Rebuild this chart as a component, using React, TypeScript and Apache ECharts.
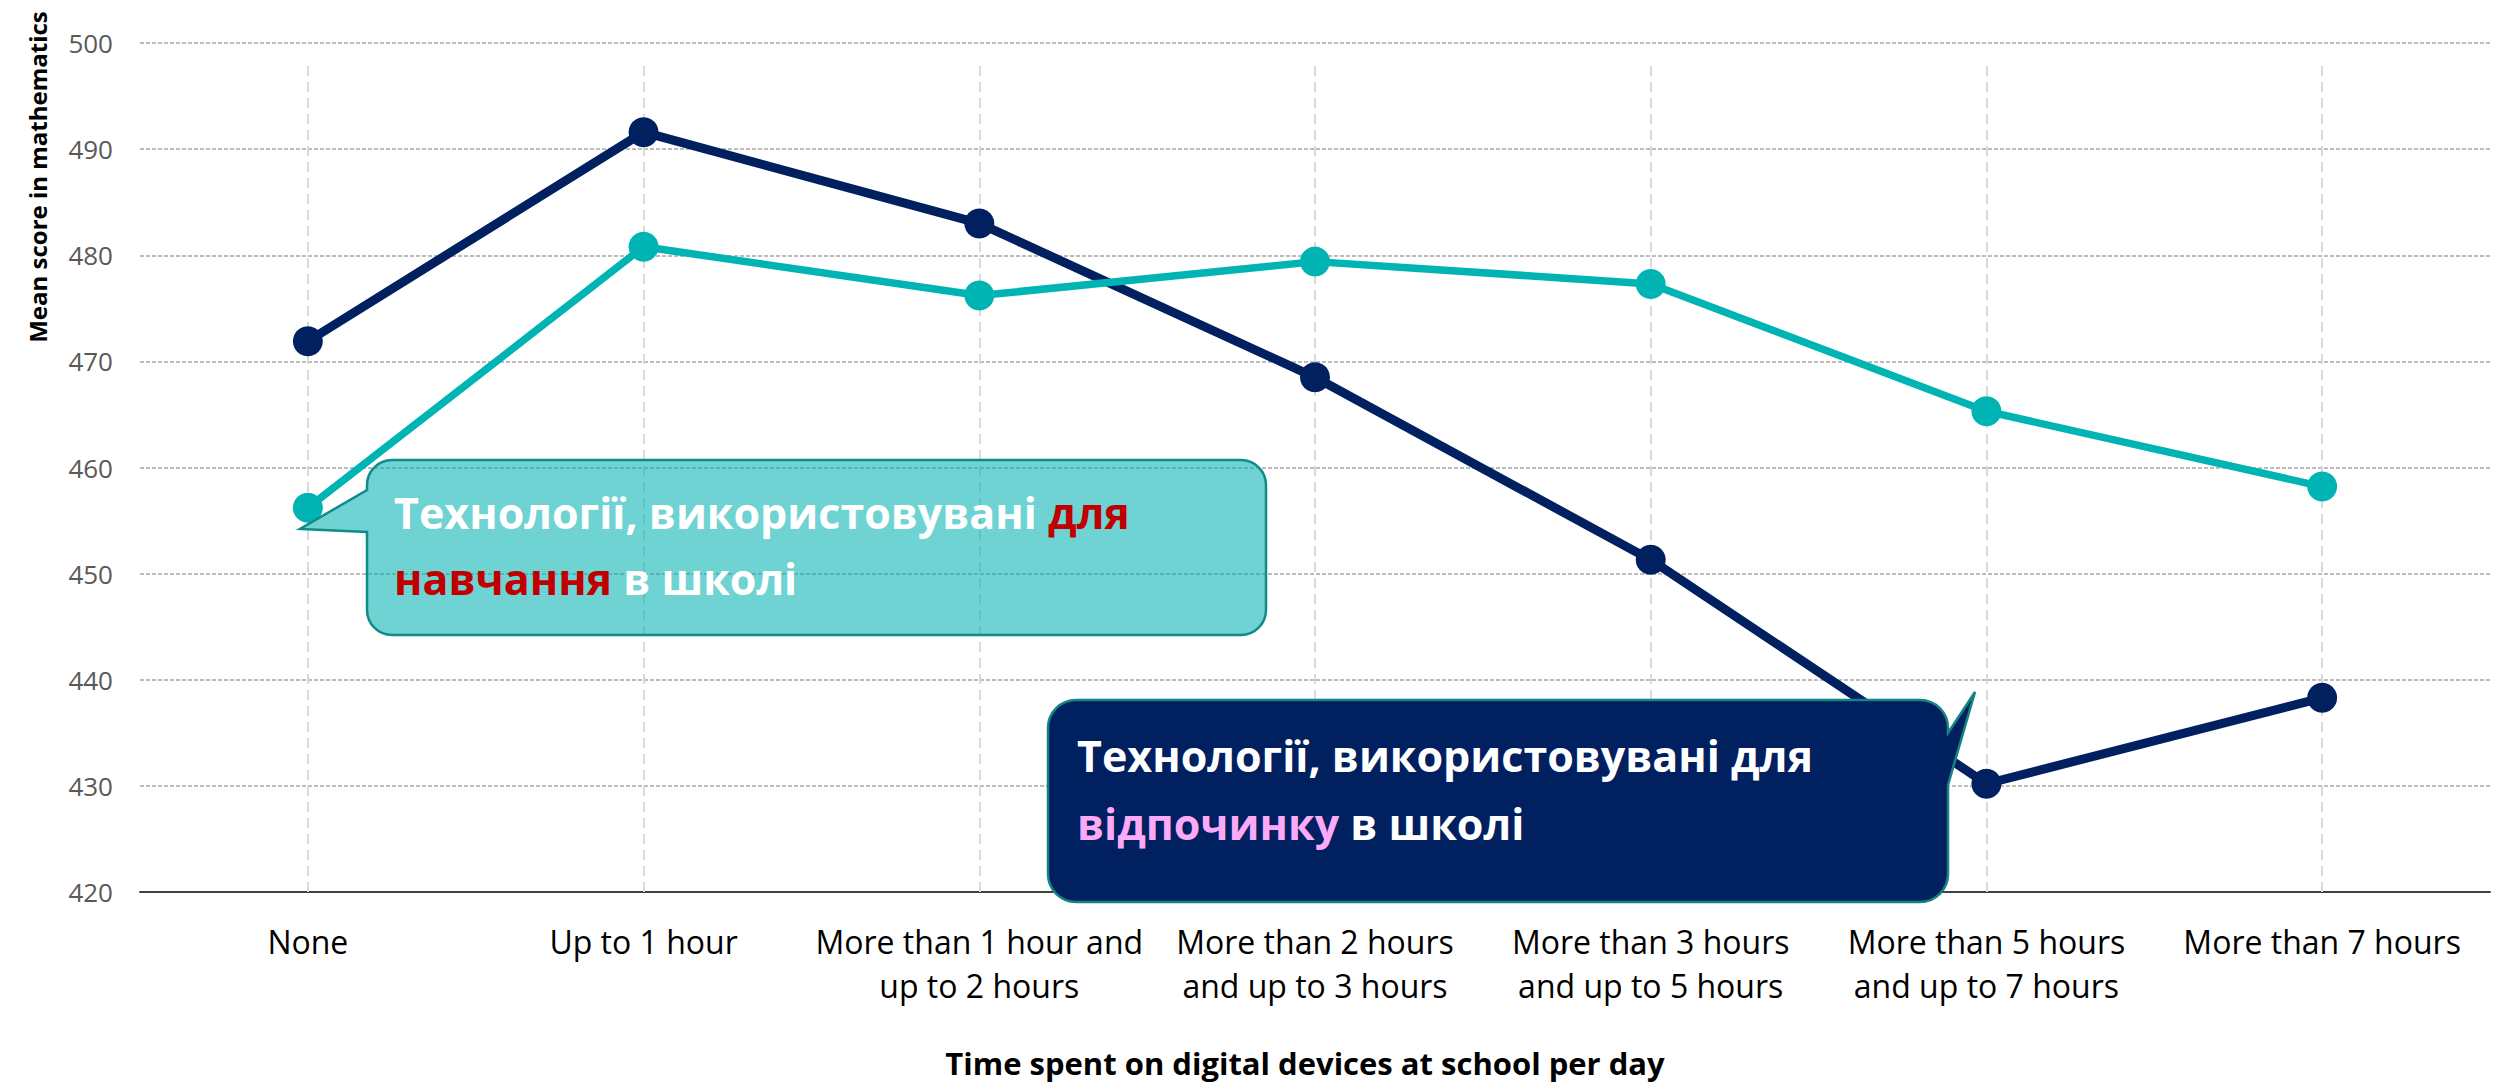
import React, { useEffect, useRef } from "react";
import * as echarts from "echarts";

const categories = [
  "None",
  "Up to 1 hour",
  "More than 1 hour and\nup to 2 hours",
  "More than 2 hours\nand up to 3 hours",
  "More than 3 hours\nand up to 5 hours",
  "More than 5 hours\nand up to 7 hours",
  "More than 7 hours",
];

// Technology used for leisure at school
const leisureScores = [471.9, 491.6, 483.0, 468.5, 451.3, 430.2, 438.3];
// Technology used for learning at school
const learningScores = [456.2, 480.8, 476.2, 479.4, 477.3, 465.3, 458.2];

const yMin = 420;
const yMax = 500;
const yInterval = 10;

const yAxisTitle = "Mean score in mathematics";
const xAxisTitle = "Time spent on digital devices at school per day";

const NAVY = "#002060";
const TEAL = "#00B4B4";
const FONT = "'Open Sans', 'Noto Sans', sans-serif";

const tealCalloutPath =
  "M 392 460 H 1241 A 25 25 0 0 1 1266 485 V 610 A 25 25 0 0 1 1241 635 H 392 A 25 25 0 0 1 367 610 V 532 L 300 529 L 367 490 V 485 A 25 25 0 0 1 392 460 Z";
const navyCalloutPath =
  "M 1076 700 H 1920 A 28 28 0 0 1 1948 728 V 733 L 1975 692 L 1948 785 V 874 A 28 28 0 0 1 1920 902 H 1076 A 28 28 0 0 1 1048 874 V 728 A 28 28 0 0 1 1076 700 Z";

let registered = false;
function registerShapes() {
  if (registered) return;
  echarts.graphic.registerShape("tealCallout", echarts.graphic.extendPath(tealCalloutPath, {}) as any);
  echarts.graphic.registerShape("navyCallout", echarts.graphic.extendPath(navyCalloutPath, {}) as any);
  registered = true;
}

export default function App() {
  const ref = useRef<HTMLDivElement>(null);

  useEffect(() => {
    document.body.style.margin = "0";
    if (!ref.current) return;
    registerShapes();
    const chart = echarts.init(ref.current, undefined, { renderer: "svg" });

    const calloutFont = 43;
    const tealLH = 66;
    const navyLH = 68;

    chart.setOption({
      animation: false,
      backgroundColor: "#ffffff",
      grid: { left: 140, right: 13, top: 43, bottom: 191, containLabel: false },
      xAxis: {
        type: "category",
        data: categories,
        boundaryGap: true,
        axisLine: { show: true, lineStyle: { color: "#404040", width: 2 } },
        axisTick: {
          show: true,
          alignWithLabel: true,
          inside: true,
          length: 829,
          lineStyle: { color: "#d9d9d9", width: 2, type: [10, 6] },
        },
        axisLabel: {
          interval: 0,
          color: "#000000",
          fontFamily: FONT,
          fontSize: 32,
          lineHeight: 44,
          margin: 27,
        },
        splitLine: { show: false },
      },
      yAxis: {
        type: "value",
        min: yMin,
        max: yMax,
        interval: yInterval,
        axisLine: { show: false },
        axisTick: { show: false },
        axisLabel: {
          color: "#595959",
          fontFamily: FONT,
          fontSize: 26,
          margin: 27,
        },
        splitLine: {
          show: true,
          lineStyle: { color: "#a6a6a6", width: 1.5, type: [4, 2] },
        },
      },
      series: [
        {
          name: "leisure",
          type: "line",
          data: leisureScores,
          symbol: "circle",
          symbolSize: 30,
          lineStyle: { color: NAVY, width: 9 },
          itemStyle: { color: NAVY },
          z: 3,
        },
        {
          name: "learning",
          type: "line",
          data: learningScores,
          symbol: "circle",
          symbolSize: 30,
          lineStyle: { color: TEAL, width: 7.5 },
          itemStyle: { color: TEAL },
          z: 4,
        },
      ],
      graphic: [
        {
          type: "text",
          x: 37,
          y: 177,
          rotation: Math.PI / 2,
          style: {
            text: yAxisTitle,
            fill: "#000000",
            font: `bold 24px ${FONT}`,
            textAlign: "center",
            textVerticalAlign: "middle",
          },
        },
        {
          type: "text",
          x: 1305,
          y: 1063,
          style: {
            text: xAxisTitle,
            fill: "#000000",
            font: `bold 31px ${FONT}`,
            textAlign: "center",
            textVerticalAlign: "middle",
          },
        },
        {
          type: "tealCallout",
          x: 0,
          y: 0,
          z: 100,
          style: {
            fill: "rgba(0,178,176,0.57)",
            stroke: "#0f8c88",
            lineWidth: 2.5,
          },
        },
        {
          type: "text",
          x: 394,
          y: 512 - tealLH / 2,
          z: 101,
          style: {
            text: "{w|Технології, використовувані }{r|для}\n{r|навчання}{w| в школі}",
            textVerticalAlign: "top",
            rich: {
              w: { fill: "#ffffff", fontSize: calloutFont, fontWeight: "bold", fontFamily: FONT, lineHeight: tealLH },
              r: { fill: "#c00000", fontSize: calloutFont, fontWeight: "bold", fontFamily: FONT, lineHeight: tealLH },
            },
          },
        },
        {
          type: "navyCallout",
          x: 0,
          y: 0,
          z: 100,
          style: {
            fill: NAVY,
            stroke: "#138481",
            lineWidth: 2.5,
          },
        },
        {
          type: "text",
          x: 1077,
          y: 755 - navyLH / 2,
          z: 101,
          style: {
            text: "{w|Технології, використовувані для}\n{p|відпочинку}{w| в школі}",
            textVerticalAlign: "top",
            rich: {
              w: { fill: "#ffffff", fontSize: calloutFont, fontWeight: "bold", fontFamily: FONT, lineHeight: navyLH },
              p: { fill: "#fbaaf8", fontSize: calloutFont, fontWeight: "bold", fontFamily: FONT, lineHeight: navyLH },
            },
          },
        },
      ],
    });

    return () => {
      chart.dispose();
    };
  }, []);

  return <div ref={ref} style={{ width: 2503, height: 1083 }} />;
}
